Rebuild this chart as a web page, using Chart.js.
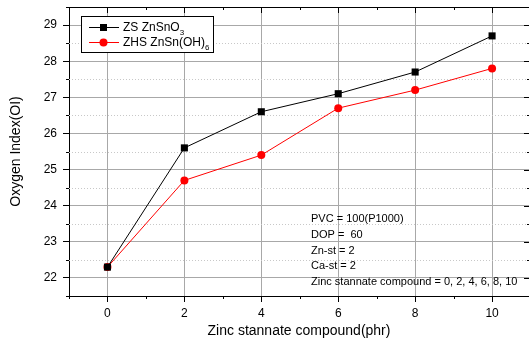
<!DOCTYPE html>
<html>
<head>
<meta charset="utf-8">
<script src="https://cdn.jsdelivr.net/npm/chart.js@4/dist/chart.umd.min.js"></script>
<style>
html,body{margin:0;padding:0;overflow:hidden;background:#fff;}
#c{display:block;}
</style>
</head>
<body>
<canvas id="c" width="529" height="349"></canvas>
<script>
// ---- data ----
const xValues = [0, 2, 4, 6, 8, 10];
const zsValues = [22.3, 25.6, 26.6, 27.1, 27.7, 28.7];
const zhsValues = [22.3, 24.7, 25.4, 26.7, 27.2, 27.8];
const xTicks = [0, 2, 4, 6, 8, 10];
const yTicks = [22, 23, 24, 25, 26, 27, 28, 29];
const xMinorTicks = [-1, 1, 3, 5, 7, 9];
const yMinorTicks = [21.5, 22.5, 23.5, 24.5, 25.5, 26.5, 27.5, 28.5, 29.5];
const seriesNames = [['ZS ZnSnO', '3'], ['ZHS ZnSn(OH)', '6']];
const noteLines = ['PVC = 100(P1000)', 'DOP =  60', 'Zn-st = 2', 'Ca-st = 2', 'Zinc stannate compound = 0, 2, 4, 6, 8, 10'];
const xTitle = 'Zinc stannate compound(phr)';
const yTitle = 'Oxygen Index(OI)';

const FONT = '"Liberation Sans", Arial, sans-serif';
const subMap = {'0':'\u2080','1':'\u2081','2':'\u2082','3':'\u2083','4':'\u2084','5':'\u2085','6':'\u2086','7':'\u2087','8':'\u2088','9':'\u2089'};

const extras = {
  id: 'extras',
  beforeDatasetsDraw(chart) {
    const {ctx, chartArea: a, scales: {x, y}} = chart;
    ctx.save();
    ctx.strokeStyle = '#c8c8c8';
    ctx.lineWidth = 1;
    ctx.setLineDash([1, 2]);
    yMinorTicks.forEach(v => {
      const py = Math.round(y.getPixelForValue(v)) + 0.5;
      if (py <= a.top + 1 || py >= a.bottom - 1) return;
      ctx.beginPath(); ctx.moveTo(a.left, py); ctx.lineTo(a.right, py); ctx.stroke();
    });
    ctx.restore();
  },
  afterDraw(chart) {
    const {ctx, chartArea: a, scales: {x, y}} = chart;
    ctx.save();
    ctx.strokeStyle = '#000';
    ctx.lineWidth = 1;
    ctx.beginPath();
    ctx.moveTo(a.left, a.top + 0.5); ctx.lineTo(a.right, a.top + 0.5);
    ctx.stroke();
    ctx.beginPath();
    xTicks.forEach(v => {
      const px = Math.round(x.getPixelForValue(v)) + 0.5;
      ctx.moveTo(px, a.top); ctx.lineTo(px, a.top + 6);
    });
    xMinorTicks.forEach(v => {
      const px = Math.round(x.getPixelForValue(v)) + 0.5;
      ctx.moveTo(px, a.bottom); ctx.lineTo(px, a.bottom + 3);
      ctx.moveTo(px, a.top); ctx.lineTo(px, a.top + 3);
    });
    yTicks.forEach(v => {
      const py = Math.round(y.getPixelForValue(v)) + 0.5;
      ctx.moveTo(a.right + 1, py); ctx.lineTo(a.right - 5, py);
    });
    yMinorTicks.forEach(v => {
      const py = Math.round(y.getPixelForValue(v)) + 0.5;
      ctx.moveTo(a.left, py); ctx.lineTo(a.left - 3, py);
      ctx.moveTo(a.right + 1, py); ctx.lineTo(a.right - 2, py);
    });
    ctx.stroke();

    ctx.fillStyle = '#000';
    ctx.font = '11px ' + FONT;
    ctx.textBaseline = 'middle';
    ctx.textAlign = 'left';
    noteLines.forEach((t, i) => {
      ctx.fillText(t, 311, 219 + i * 15.8);
    });

    const bx = 81, by = 16, bw = 132, bh = 36;
    ctx.fillStyle = '#fff';
    ctx.fillRect(bx, by, bw, bh);
    ctx.strokeStyle = '#000';
    ctx.lineWidth = 1;
    ctx.strokeRect(bx + 0.5, by + 0.5, bw, bh);
    chart.data.datasets.forEach((ds, i) => {
      const cy = by + 11 + i * 15;
      ctx.strokeStyle = ds.borderColor;
      ctx.lineWidth = 1;
      ctx.beginPath(); ctx.moveTo(89, cy + 0.5); ctx.lineTo(119, cy + 0.5); ctx.stroke();
      ctx.fillStyle = ds.pointBackgroundColor;
      if (ds.pointStyle === 'rect') {
        ctx.fillRect(100, cy - 3, 7, 7);
      } else {
        ctx.beginPath(); ctx.arc(103.5, cy + 0.5, 4, 0, Math.PI * 2); ctx.fill();
      }
      ctx.fillStyle = '#000';
      ctx.font = '12px ' + FONT;
      ctx.textBaseline = 'middle';
      const main = seriesNames[i][0];
      ctx.fillText(main, 123, cy + 1);
      const w = ctx.measureText(main).width;
      ctx.font = '8px ' + FONT;
      ctx.fillText(seriesNames[i][1], 123 + w, cy + 6);
    });
    ctx.restore();
  }
};

new Chart(document.getElementById('c'), {
  type: 'line',
  data: {
    datasets: [
      {
        label: seriesNames[0][0] + subMap[seriesNames[0][1]],
        data: xValues.map((v, i) => ({x: v, y: zsValues[i]})),
        borderColor: '#000', backgroundColor: '#000',
        pointBackgroundColor: '#000', pointBorderColor: '#000',
        pointStyle: 'rect', pointRadius: 5, pointBorderWidth: 0,
        borderWidth: 1, tension: 0
      },
      {
        label: seriesNames[1][0] + subMap[seriesNames[1][1]],
        data: xValues.map((v, i) => ({x: v, y: zhsValues[i]})),
        borderColor: '#ff0000', backgroundColor: '#ff0000',
        pointBackgroundColor: '#ff0000', pointBorderColor: '#ff0000',
        pointStyle: 'circle', pointRadius: 4, pointBorderWidth: 0,
        borderWidth: 1, tension: 0
      }
    ]
  },
  options: {
    responsive: false,
    animation: false,
    layout: {autoPadding: false, padding: {top: 7, right: 0, left: 0, bottom: 0}},
    plugins: {legend: {display: false}, tooltip: {enabled: false}},
    scales: {
      x: {
        type: 'linear', min: -1, max: 10.96,
        afterBuildTicks: s => { s.ticks = xTicks.map(v => ({value: v})); },
        afterFit: s => { s.height = 53; s.paddingLeft = 0; s.paddingRight = 0; },
        grid: {color: '#a8a8a8', lineWidth: 1, tickColor: '#000', tickLength: 6, drawTicks: true},
        border: {display: true, color: '#000', width: 1},
        ticks: {color: '#000', font: {family: FONT, size: 12}, padding: 4, maxRotation: 0},
        title: {display: true, text: xTitle, color: '#000', font: {family: FONT, size: 14}, padding: {top: 0, bottom: 9}}
      },
      y: {
        type: 'linear', min: 21.5, max: 29.5,
        afterBuildTicks: s => { s.ticks = yTicks.map(v => ({value: v})); },
        afterFit: s => { s.width = 69; s.paddingTop = 0; s.paddingBottom = 0; },
        grid: {color: '#a8a8a8', lineWidth: 1, tickColor: '#000', tickLength: 6, drawTicks: true},
        border: {display: true, color: '#000', width: 1},
        ticks: {color: '#000', font: {family: FONT, size: 12}, padding: 6},
        title: {display: true, text: yTitle, color: '#000', font: {family: FONT, size: 14}, padding: {top: 8, bottom: 0}}
      }
    }
  },
  plugins: [extras]
});
</script>
</body>
</html>
